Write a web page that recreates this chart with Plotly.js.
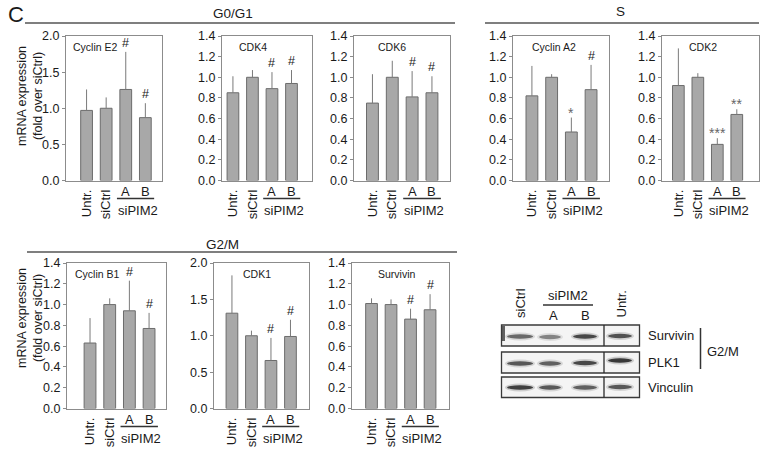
<!DOCTYPE html>
<html><head><meta charset="utf-8">
<script src="https://cdn.plot.ly/plotly-3.0.1.min.js"></script>
<style>html,body{margin:0;padding:0;background:#fff}#chart{width:765px;height:449px}</style>
</head><body><div id="chart"></div>
<script>
// ---------------- data ----------------
const categories = ["Untr.", "siCtrl", "A", "B"];
const groupLabel = "siPIM2";
const yAxisTitle = "mRNA expression<br>(fold over siCtrl)";
const phaseLabels = ["G0/G1", "S", "G2/M"];
const panelLetter = "C";

const geneNames = ["Cyclin E2", "CDK4", "CDK6", "Cyclin A2", "CDK2", "Cyclin B1", "CDK1", "Survivin"];

const cyclinE2    = [0.97, 1.00, 1.26, 0.87];
const cyclinE2Sd  = [0.29, 0.15, 0.52, 0.20];
const cyclinE2Sig = ["", "", "#", "#"];

const cdk4    = [0.85, 1.00, 0.89, 0.94];
const cdk4Sd  = [0.16, 0.07, 0.16, 0.13];
const cdk4Sig = ["", "", "#", "#"];

const cdk6    = [0.75, 1.00, 0.81, 0.85];
const cdk6Sd  = [0.28, 0.16, 0.25, 0.16];
const cdk6Sig = ["", "", "#", "#"];

const cyclinA2    = [0.82, 1.00, 0.47, 0.88];
const cyclinA2Sd  = [0.29, 0.03, 0.14, 0.24];
const cyclinA2Sig = ["", "", "*", "#"];

const cdk2    = [0.92, 1.00, 0.35, 0.64];
const cdk2Sd  = [0.36, 0.04, 0.06, 0.05];
const cdk2Sig = ["", "", "***", "**"];

const cyclinB1    = [0.63, 1.00, 0.94, 0.77];
const cyclinB1Sd  = [0.24, 0.06, 0.29, 0.15];
const cyclinB1Sig = ["", "", "#", "#"];

const cdk1    = [1.31, 1.00, 0.66, 0.99];
const cdk1Sd  = [0.52, 0.07, 0.31, 0.23];
const cdk1Sig = ["", "", "#", "#"];

const survivin    = [1.01, 1.00, 0.86, 0.95];
const survivinSd  = [0.05, 0.05, 0.10, 0.15];
const survivinSig = ["", "", "#", "#"];

// western blot (relative band intensity per lane)
const blotLanes = ["siCtrl", "A", "B", "Untr."];
const blotProteins = ["Survivin", "PLK1", "Vinculin"];
const blotPhase = "G2/M";
const survivinBand = [0.70, 0.55, 0.90, 0.85];
const plk1Band     = [0.80, 0.75, 0.90, 1.00];
const vinculinBand = [0.95, 0.80, 0.75, 0.80];

const seriesVals = [cyclinE2, cdk4, cdk6, cyclinA2, cdk2, cyclinB1, cdk1, survivin];
const seriesSd   = [cyclinE2Sd, cdk4Sd, cdk6Sd, cyclinA2Sd, cdk2Sd, cyclinB1Sd, cdk1Sd, survivinSd];
const seriesSig  = [cyclinE2Sig, cdk4Sig, cdk6Sig, cyclinA2Sig, cdk2Sig, cyclinB1Sig, cdk1Sig, survivinSig];
const bandSets   = [survivinBand, plk1Band, vinculinBand];

// ---------------- layout helpers ----------------
const W = 765, H = 449;
const X = p => p / W;
const Y = p => 1 - p / H;
const FONT = "Liberation Sans, Arial, Helvetica, sans-serif";
const TXT = "#1a1a1a";

const panels = [
  {px:[66,162],  py:[36,180.5],  r:[-1.05,3.85], ymax:2.0, dt:0.5, tx:-0.78, ta:"left",   ty:47},
  {px:[222,312], py:[36,180.5],  r:[-0.56,4.05], ymax:1.4, dt:0.2, tx:1.05,  ta:"center", ty:47},
  {px:[354,450], py:[36,180.5],  r:[-0.93,3.91], ymax:1.4, dt:0.2, tx:0.97,  ta:"center", ty:47},
  {px:[513,609], py:[36,180.5],  r:[-0.96,3.91], ymax:1.4, dt:0.2, tx:1.12,  ta:"center", ty:47},
  {px:[662,759], py:[36,180.5],  r:[-0.84,4.14], ymax:1.4, dt:0.2, tx:1.27,  ta:"center", ty:47},
  {px:[67,166],  py:[263,408.5], r:[-1.17,3.86], ymax:1.4, dt:0.2, tx:-0.86, ta:"left",   ty:274},
  {px:[214,309], py:[263,408.5], r:[-0.92,3.95], ymax:2.0, dt:0.5, tx:1.28,  ta:"center", ty:274},
  {px:[352,449], py:[263,408.5], r:[-1.00,3.97], ymax:1.4, dt:0.2, tx:1.33,  ta:"center", ty:274}
];

const traces = [];
const layout = {
  width: W, height: H,
  margin: {l:0, r:0, t:0, b:0},
  paper_bgcolor: "#fff", plot_bgcolor: "#fff",
  showlegend: false,
  font: {family: FONT, color: TXT, size: 12},
  annotations: [], shapes: []
};

panels.forEach((p, k) => {
  const sx = k === 0 ? "" : String(k + 1);
  const xa = "x" + sx, ya = "y" + sx;
  traces.push({
    type: "bar",
    x: categories.map((c, i) => i),
    y: seriesVals[k],
    xaxis: xa, yaxis: ya,
    width: 0.6,
    marker: {color: "#a8a8a8", line: {color: "#6c6c6c", width: 1}},
    error_y: {type: "data", symmetric: false, array: seriesSd[k],
              arrayminus: seriesSd[k].map(() => 0),
              color: "#7a7a7a", thickness: 1, width: 0},
    hoverinfo: "skip"
  });
  layout["xaxis" + sx] = {
    domain: [X(p.px[0]), X(p.px[1])], range: p.r, anchor: ya,
    showline: true, mirror: true, linecolor: "#8c8c8c", linewidth: 1,
    showgrid: false, zeroline: false,
    tickmode: "array", tickvals: [0, 1], ticktext: categories.slice(0, 2),
    tickangle: -90, ticks: "outside", ticklen: 3, tickcolor: "rgba(0,0,0,0)",
    tickfont: {family: FONT, size: 13, color: TXT}, fixedrange: true
  };
  layout["yaxis" + sx] = {
    domain: [Y(p.py[1]), Y(p.py[0])], range: [0, p.ymax], anchor: xa,
    showline: true, mirror: true, linecolor: "#8c8c8c", linewidth: 1,
    showgrid: false, zeroline: false, dtick: p.dt, tick0: 0, tickformat: ".1f",
    ticks: "outside", ticklen: 3, tickcolor: "#8c8c8c",
    tickfont: {family: FONT, size: 12.5, color: TXT}, fixedrange: true
  };
  // gene title
  layout.annotations.push({xref: xa, yref: "paper", x: p.tx, y: Y(p.ty), xanchor: p.ta, yanchor: "middle",
    text: geneNames[k], showarrow: false, font: {size: 10.5, color: TXT}});
  // significance markers
  seriesSig[k].forEach((s, i) => {
    if (!s) return;
    const star = s.indexOf("*") >= 0;
    layout.annotations.push({xref: xa, yref: ya, x: i, y: seriesVals[k][i] + seriesSd[k][i],
      xanchor: "center", yanchor: "bottom", yshift: star ? -5 : 0, text: s, showarrow: false,
      font: {size: star ? 14 : 12.5, color: star ? "#666" : TXT}});
  });
  // A / B labels, underline, group label
  const base = p.py[1];
  [2, 3].forEach(i => layout.annotations.push({xref: xa, yref: "paper", x: i, y: Y(base + 11),
    xanchor: "center", yanchor: "middle", text: categories[i], showarrow: false, font: {size: 13, color: TXT}}));
  layout.shapes.push({type: "line", xref: xa, yref: "paper", x0: 1.55, x1: 3.45,
    y0: Y(base + 18), y1: Y(base + 18), line: {color: "#333", width: 1.5}});
  layout.annotations.push({xref: xa, yref: "paper", x: 2.6, y: Y(base + 30),
    xanchor: "center", yanchor: "middle", text: groupLabel, showarrow: false, font: {size: 13, color: TXT}});
});

// y-axis titles
[[30, 96], [30, 318]].forEach(([cx, cy]) => layout.annotations.push({xref: "paper", yref: "paper",
  x: X(cx), y: Y(cy), xanchor: "center", yanchor: "middle", textangle: -90, text: yAxisTitle,
  showarrow: false, font: {size: 12.5, color: TXT}}));

// panel letter
layout.annotations.push({xref: "paper", yref: "paper", x: X(6), y: Y(14), xanchor: "left", yanchor: "middle",
  text: panelLetter, showarrow: false, font: {size: 22, color: TXT}});

// phase headers
const headers = [
  {t: phaseLabels[0], cx: 233, ty: 13, lx: [25, 455], ly: 23},
  {t: phaseLabels[1], cx: 620, ty: 12, lx: [485, 759], ly: 23},
  {t: phaseLabels[2], cx: 222, ty: 244, lx: [27, 457], ly: 252}
];
headers.forEach(h => {
  layout.annotations.push({xref: "paper", yref: "paper", x: X(h.cx), y: Y(h.ty), xanchor: "center",
    yanchor: "middle", text: h.t, showarrow: false, font: {size: 13.5, color: TXT}});
  layout.shapes.push({type: "line", xref: "paper", yref: "paper", x0: X(h.lx[0]), x1: X(h.lx[1]),
    y0: Y(h.ly), y1: Y(h.ly), line: {color: "#555", width: 1.5}});
});

// ---------------- western blot ----------------
const blotX = [501.5, 639.5], blotDiv = 604;
const laneCx = [520, 550, 585, 620];
const laneW = [26, 22, 24, 24];
const rows = [{y: [325, 346], cy: [336.5, 337, 336.5, 336]},
              {y: [352, 373], cy: [363.5, 363.5, 363, 360.5]},
              {y: [377, 397.5], cy: [387.5, 387.5, 387.5, 387]}];
rows.forEach((r, j) => {
  layout.shapes.push({type: "rect", xref: "paper", yref: "paper", x0: X(blotX[0]), x1: X(blotX[1]),
    y0: Y(r.y[1]), y1: Y(r.y[0]), line: {color: "#3a3a3a", width: 1.3}, fillcolor: "#f4f4f4"});
  layout.shapes.push({type: "line", xref: "paper", yref: "paper", x0: X(blotDiv), x1: X(blotDiv),
    y0: Y(r.y[1]), y1: Y(r.y[0]), line: {color: "#2a2a2a", width: 1.3}});
  bandSets[j].forEach((v, i) => {
    const cx = laneCx[i], cy = r.cy[i], w = laneW[i];
    layout.shapes.push({type: "circle", xref: "paper", yref: "paper",
      x0: X(cx - w / 2 - 2), x1: X(cx + w / 2 + 2), y0: Y(cy + 4), y1: Y(cy - 4),
      line: {width: 0}, fillcolor: "#555", opacity: 0.25 * v});
    layout.shapes.push({type: "circle", xref: "paper", yref: "paper",
      x0: X(cx - w / 2), x1: X(cx + w / 2), y0: Y(cy + 2.2), y1: Y(cy - 2.2),
      line: {width: 0}, fillcolor: "#1e1e1e", opacity: 0.85 * v});
  });
  layout.annotations.push({xref: "paper", yref: "paper", x: X(646), y: Y((r.y[0] + r.y[1]) / 2),
    xanchor: "left", yanchor: "middle", text: blotProteins[j], showarrow: false, font: {size: 13, color: TXT}});
});
// dark smear at left edge of survivin blot
layout.shapes.push({type: "rect", xref: "paper", yref: "paper", x0: X(502), x1: X(505), y0: Y(341), y1: Y(326),
  line: {width: 0}, fillcolor: "#222", opacity: 0.7});
// bracket and phase
layout.shapes.push({type: "line", xref: "paper", yref: "paper", x0: X(700.5), x1: X(700.5), y0: Y(369), y1: Y(328),
  line: {color: "#333", width: 1.5}});
layout.annotations.push({xref: "paper", yref: "paper", x: X(705), y: Y(351), xanchor: "left", yanchor: "middle",
  text: blotPhase, showarrow: false, font: {size: 13, color: TXT}});
// lane headers
[[0, 520], [3, 621]].forEach(([i, cx]) => layout.annotations.push({xref: "paper", yref: "paper", x: X(cx), y: Y(320),
  xanchor: "center", yanchor: "bottom", textangle: -90, text: blotLanes[i], showarrow: false, font: {size: 13, color: TXT}}));
[[1, 553], [2, 585]].forEach(([i, cx]) => layout.annotations.push({xref: "paper", yref: "paper", x: X(cx), y: Y(315),
  xanchor: "center", yanchor: "middle", text: blotLanes[i], showarrow: false, font: {size: 13, color: TXT}}));
layout.shapes.push({type: "line", xref: "paper", yref: "paper", x0: X(543), x1: X(593), y0: Y(305), y1: Y(305),
  line: {color: "#333", width: 1.5}});
layout.annotations.push({xref: "paper", yref: "paper", x: X(568), y: Y(295), xanchor: "center", yanchor: "middle",
  text: groupLabel, showarrow: false, font: {size: 13, color: TXT}});

Plotly.newPlot("chart", traces, layout, {staticPlot: true, displayModeBar: false});
</script>
</body></html>
